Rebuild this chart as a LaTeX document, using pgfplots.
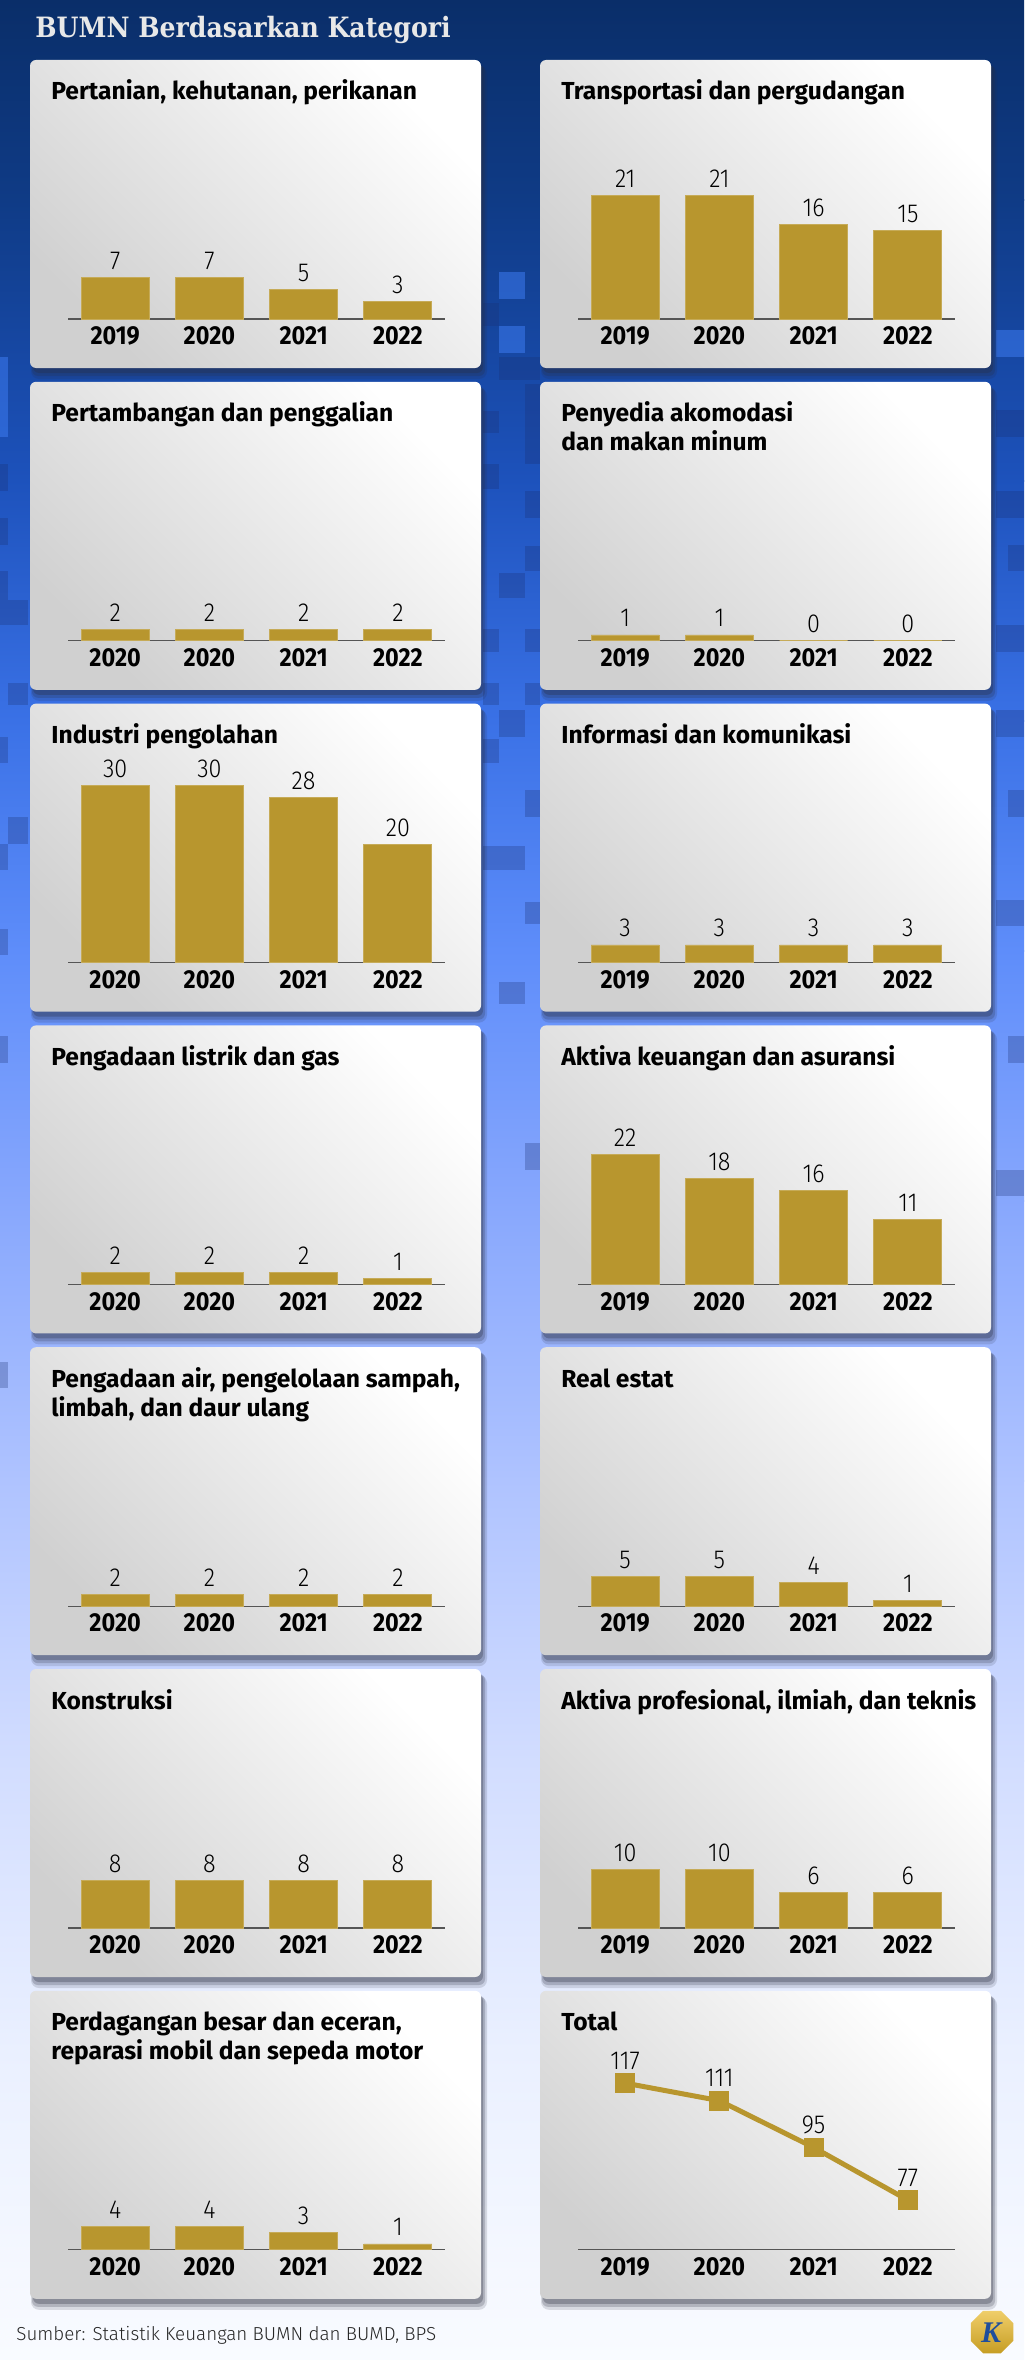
\documentclass[border=0pt]{standalone}
\usepackage{pgfplots}
\pgfplotsset{compat=1.18}
\usepackage{fontspec}
\usetikzlibrary{shapes.geometric}
\setmainfont{Fira Sans}
\newfontfamily\ptitlefont{Fira Sans}
\newfontfamily\yearfam{Fira Sans}[FakeStretch=0.9]
\IfFontExistsTF{Fira Sans Light}{%
  \newfontfamily\valfontfam{Fira Sans Light}[FakeStretch=0.9]%
  \newfontfamily\srcfam{Fira Sans Light}}{%
  \newfontfamily\valfontfam{Fira Sans}[FakeStretch=0.9]%
  \newfontfamily\srcfam{Fira Sans}}
\newfontfamily\headfontfam{DejaVu Serif}[FakeStretch=0.9]
\newfontfamily\logofontfam{Liberation Serif}

\definecolor{barcol}{HTML}{B8962E}
\definecolor{axcol}{HTML}{555555}
\definecolor{panelgray}{HTML}{D0D0D0}
\definecolor{headcol}{HTML}{E8E8E8}
\definecolor{shadowcol}{HTML}{2A2E40}
\definecolor{bgA}{HTML}{0A2E69}
\definecolor{bgB}{HTML}{0F3B86}
\definecolor{bgC}{HTML}{1D52BC}
\definecolor{bgD}{HTML}{3A71E6}
\definecolor{bgE}{HTML}{5E8DFA}
\definecolor{bgF}{HTML}{87A7FD}
\definecolor{bgG}{HTML}{AFC3FF}
\definecolor{bgH}{HTML}{D2DDFF}
\definecolor{bgI}{HTML}{EAF0FF}
\definecolor{bgJ}{HTML}{F9FBFF}
\definecolor{blockdark}{HTML}{1A2F70}
\definecolor{blocklight}{HTML}{3C7AF0}
\definecolor{logogold}{HTML}{E9B92A}
\definecolor{logoblue}{HTML}{1F4E9C}

\newcommand\ptitle{\ptitlefont\bfseries\fontsize{12.3}{14.5}\selectfont}
\newcommand\yearfont{\yearfam\bfseries\fontsize{13}{13}\selectfont}
\newcommand\valfont{\valfontfam\fontsize{13}{13}\selectfont}
\newcommand\headfont{\headfontfam\bfseries\fontsize{14}{14}\selectfont}

\pgfplotsset{
  panelaxis/.style={scale only axis, width=188.5pt, anchor=south west,
    xmin=-0.5, xmax=3.5, axis x line*=bottom, axis y line=none,
    xtick={0,1,2,3}, ytick=\empty, major tick length=0pt,
    x axis line style={draw=axcol, line width=0.65pt},
    xticklabel style={font=\yearfont, anchor=base, yshift=-12.8pt, inner sep=0pt, text=black},
    /pgf/number format/assume math mode=true,
    clip=false},
  barstyle/.style={panelaxis, height=118pt, ymin=0, ymax=40,
    ybar, bar width=34pt,
    nodes near coords,
    every node near coord/.append style={font=\valfont, anchor=base, yshift=4pt, inner sep=0pt, text=black}},
}

\newcommand\panelbg[2]{%
  \begin{scope}[x=0.5pt,y=-0.5pt]
    \fill[shadowcol,opacity=0.15,rounded corners=4pt] ({#1+1},{#2+6}) rectangle ({#1+457},{#2+319});
    \fill[shadowcol,opacity=0.22,rounded corners=3pt] ({#1+2},{#2+5}) rectangle ({#1+455},{#2+316});
    \fill[shadowcol,opacity=0.3,rounded corners=3pt] ({#1+3},{#2+4}) rectangle ({#1+453},{#2+313});
    \shade[rounded corners=3pt, top color=white, bottom color=panelgray, shading angle=-45] (#1,#2) rectangle ({#1+451},{#2+308});
  \end{scope}}

\newcommand\ptitles[4]{%
  \begin{scope}[x=0.5pt,y=-0.5pt]
    \node[anchor=base west, inner sep=0pt, font=\ptitle] at ({#1+21},{#2+40}) {#3};
    \node[anchor=base west, inner sep=0pt, font=\ptitle] at ({#1+21},{#2+69}) {#4};
  \end{scope}}

% #1 X, #2 Y, #3 title1, #4 title2, #5 tick labels, #6 coordinates
\newcommand\barpanel[6]{%
  \panelbg{#1}{#2}%
  \ptitles{#1}{#2}{#3}{#4}%
  \pgfmathsetmacro\ax{(#1+38)*0.5}%
  \pgfmathsetmacro\ay{-(#2+259)*0.5}%
  \begin{axis}[barstyle, at={(\ax pt,\ay pt)}, xticklabels={#5}]
    \addplot[fill=barcol, draw=barcol!80!white, line width=0.4pt] coordinates {#6};
  \end{axis}}

\newcommand\blk[4]{\fill[blockdark, opacity=0.28] (#1,#2) rectangle (#3,#4);}
\newcommand\blkl[4]{\fill[blocklight, opacity=0.55] (#1,#2) rectangle (#3,#4);}

\begin{document}
\begin{tikzpicture}
\useasboundingbox (0pt,0pt) rectangle (512pt,-1180pt);
\begin{scope}[x=0.5pt,y=-0.5pt]
  \shade[top color=bgA, bottom color=bgB] (0,0) rectangle (1024,201);
  \shade[top color=bgB, bottom color=bgC] (0,200) rectangle (1024,481);
  \shade[top color=bgC, bottom color=bgD] (0,480) rectangle (1024,721);
  \shade[top color=bgD, bottom color=bgE] (0,720) rectangle (1024,951);
  \shade[top color=bgE, bottom color=bgF] (0,950) rectangle (1024,1201);
  \shade[top color=bgF, bottom color=bgG] (0,1200) rectangle (1024,1481);
  \shade[top color=bgG, bottom color=bgH] (0,1480) rectangle (1024,1761);
  \shade[top color=bgH, bottom color=bgI] (0,1760) rectangle (1024,2051);
  \shade[top color=bgI, bottom color=bgJ] (0,2050) rectangle (1024,2360);
  % decorative pixel blocks (middle gap)
  \blkl{499}{272}{525}{299}
  \blkl{499}{326}{525}{353}
  \blk{483}{303}{499}{326}
  \blk{499}{357}{540}{380}
  \blk{525}{384}{540}{464}
  \blk{483}{411}{499}{433}
  \blk{483}{464}{499}{489}
  \blk{525}{491}{540}{518}
  \blk{525}{546}{540}{571}
  \blk{499}{573}{525}{598}
  \blk{483}{629}{499}{652}
  \blk{525}{629}{540}{652}
  \blk{483}{683}{499}{705}
  \blk{525}{683}{540}{705}
  \blk{499}{710}{525}{737}
  \blk{483}{739}{499}{763}
  \blk{525}{790}{540}{817}
  \blk{483}{846}{525}{870}
  \blk{525}{902}{540}{924}
  \blk{499}{982}{525}{1004}
  \blk{525}{1143}{540}{1170}
  % left margin
  \blkl{0}{357}{8}{437}
  \blk{0}{464}{8}{491}
  \blk{0}{518}{8}{545}
  \blk{0}{571}{8}{625}
  \blk{8}{600}{28}{625}
  \blk{8}{683}{28}{705}
  \blk{0}{737}{8}{763}
  \blk{8}{817}{28}{844}
  \blk{0}{844}{8}{870}
  \blk{0}{929}{8}{955}
  \blk{0}{1036}{8}{1063}
  \blk{0}{1362}{8}{1388}
  % right margin
  \blkl{996}{330}{1024}{357}
  \blk{996}{410}{1024}{437}
  \blk{996}{491}{1024}{518}
  \blk{1008}{545}{1024}{571}
  \blk{996}{625}{1024}{652}
  \blk{996}{710}{1024}{737}
  \blk{1008}{790}{1024}{817}
  \blk{996}{900}{1024}{926}
  \blk{1008}{1036}{1024}{1063}
  \blk{996}{1170}{1024}{1196}
  \node[anchor=base west, inner sep=0pt, font=\headfont, text=headcol] at (35,38) {BUMN Berdasarkan Kategori};
\end{scope}

\barpanel{30}{60}{Pertanian, kehutanan, perikanan}{}{2019,2020,2021,2022}{(0,7) (1,7) (2,5) (3,3)}
\barpanel{540}{60}{Transportasi dan pergudangan}{}{2019,2020,2021,2022}{(0,21) (1,21) (2,16) (3,15)}
\barpanel{30}{381.8}{Pertambangan dan penggalian}{}{2020,2020,2021,2022}{(0,2) (1,2) (2,2) (3,2)}
\barpanel{540}{381.8}{Penyedia akomodasi}{dan makan minum}{2019,2020,2021,2022}{(0,1) (1,1) (2,0) (3,0)}
\barpanel{30}{703.6}{Industri pengolahan}{}{2020,2020,2021,2022}{(0,30) (1,30) (2,28) (3,20)}
\barpanel{540}{703.6}{Informasi dan komunikasi}{}{2019,2020,2021,2022}{(0,3) (1,3) (2,3) (3,3)}
\barpanel{30}{1025.4}{Pengadaan listrik dan gas}{}{2020,2020,2021,2022}{(0,2) (1,2) (2,2) (3,1)}
\barpanel{540}{1025.4}{Aktiva keuangan dan asuransi}{}{2019,2020,2021,2022}{(0,22) (1,18) (2,16) (3,11)}
\barpanel{30}{1347.2}{Pengadaan air, pengelolaan sampah,}{limbah, dan daur ulang}{2020,2020,2021,2022}{(0,2) (1,2) (2,2) (3,2)}
\barpanel{540}{1347.2}{Real estat}{}{2019,2020,2021,2022}{(0,5) (1,5) (2,4) (3,1)}
\barpanel{30}{1669}{Konstruksi}{}{2020,2020,2021,2022}{(0,8) (1,8) (2,8) (3,8)}
\barpanel{540}{1669}{Aktiva profesional, ilmiah, dan teknis}{}{2019,2020,2021,2022}{(0,10) (1,10) (2,6) (3,6)}
\barpanel{30}{1990.8}{Perdagangan besar dan eceran,}{reparasi mobil dan sepeda motor}{2020,2020,2021,2022}{(0,4) (1,4) (2,3) (3,1)}

% Total panel
\panelbg{540}{1990.8}
\ptitles{540}{1990.8}{Total}{}
\pgfmathsetmacro\ax{(540+38)*0.5}
\pgfmathsetmacro\ay{-(1990.8+259)*0.5}
\begin{axis}[panelaxis, at={(\ax pt,\ay pt)}, height=117pt, ymin=60, ymax=140,
  xticklabels={2019,2020,2021,2022},
  nodes near coords,
  every node near coord/.append style={font=\valfont, anchor=base, yshift=7pt, inner sep=0pt, text=black}]
  \addplot[barcol, line width=2.5pt, mark=square*, mark size=3.7pt, mark options={solid, fill=barcol}] coordinates {(0,117) (1,111) (2,95) (3,77)};
\end{axis}

\begin{scope}[x=0.5pt,y=-0.5pt]
  \node[anchor=base west, inner sep=0pt, text=black!85, font=\srcfam\fontsize{9.4}{9.4}\selectfont] at (16,2340) {Sumber: Statistik Keuangan BUMN dan BUMD, BPS};
  \node[regular polygon, regular polygon sides=8, minimum size=23pt, inner sep=0pt, top color=logogold!70!white, bottom color=logogold!85!black, draw=none] at (992,2332) {};
  \node[text=logoblue, font=\logofontfam\bfseries\itshape\fontsize{15}{15}\selectfont] at (991,2333) {K};
\end{scope}
\end{tikzpicture}
\end{document}
